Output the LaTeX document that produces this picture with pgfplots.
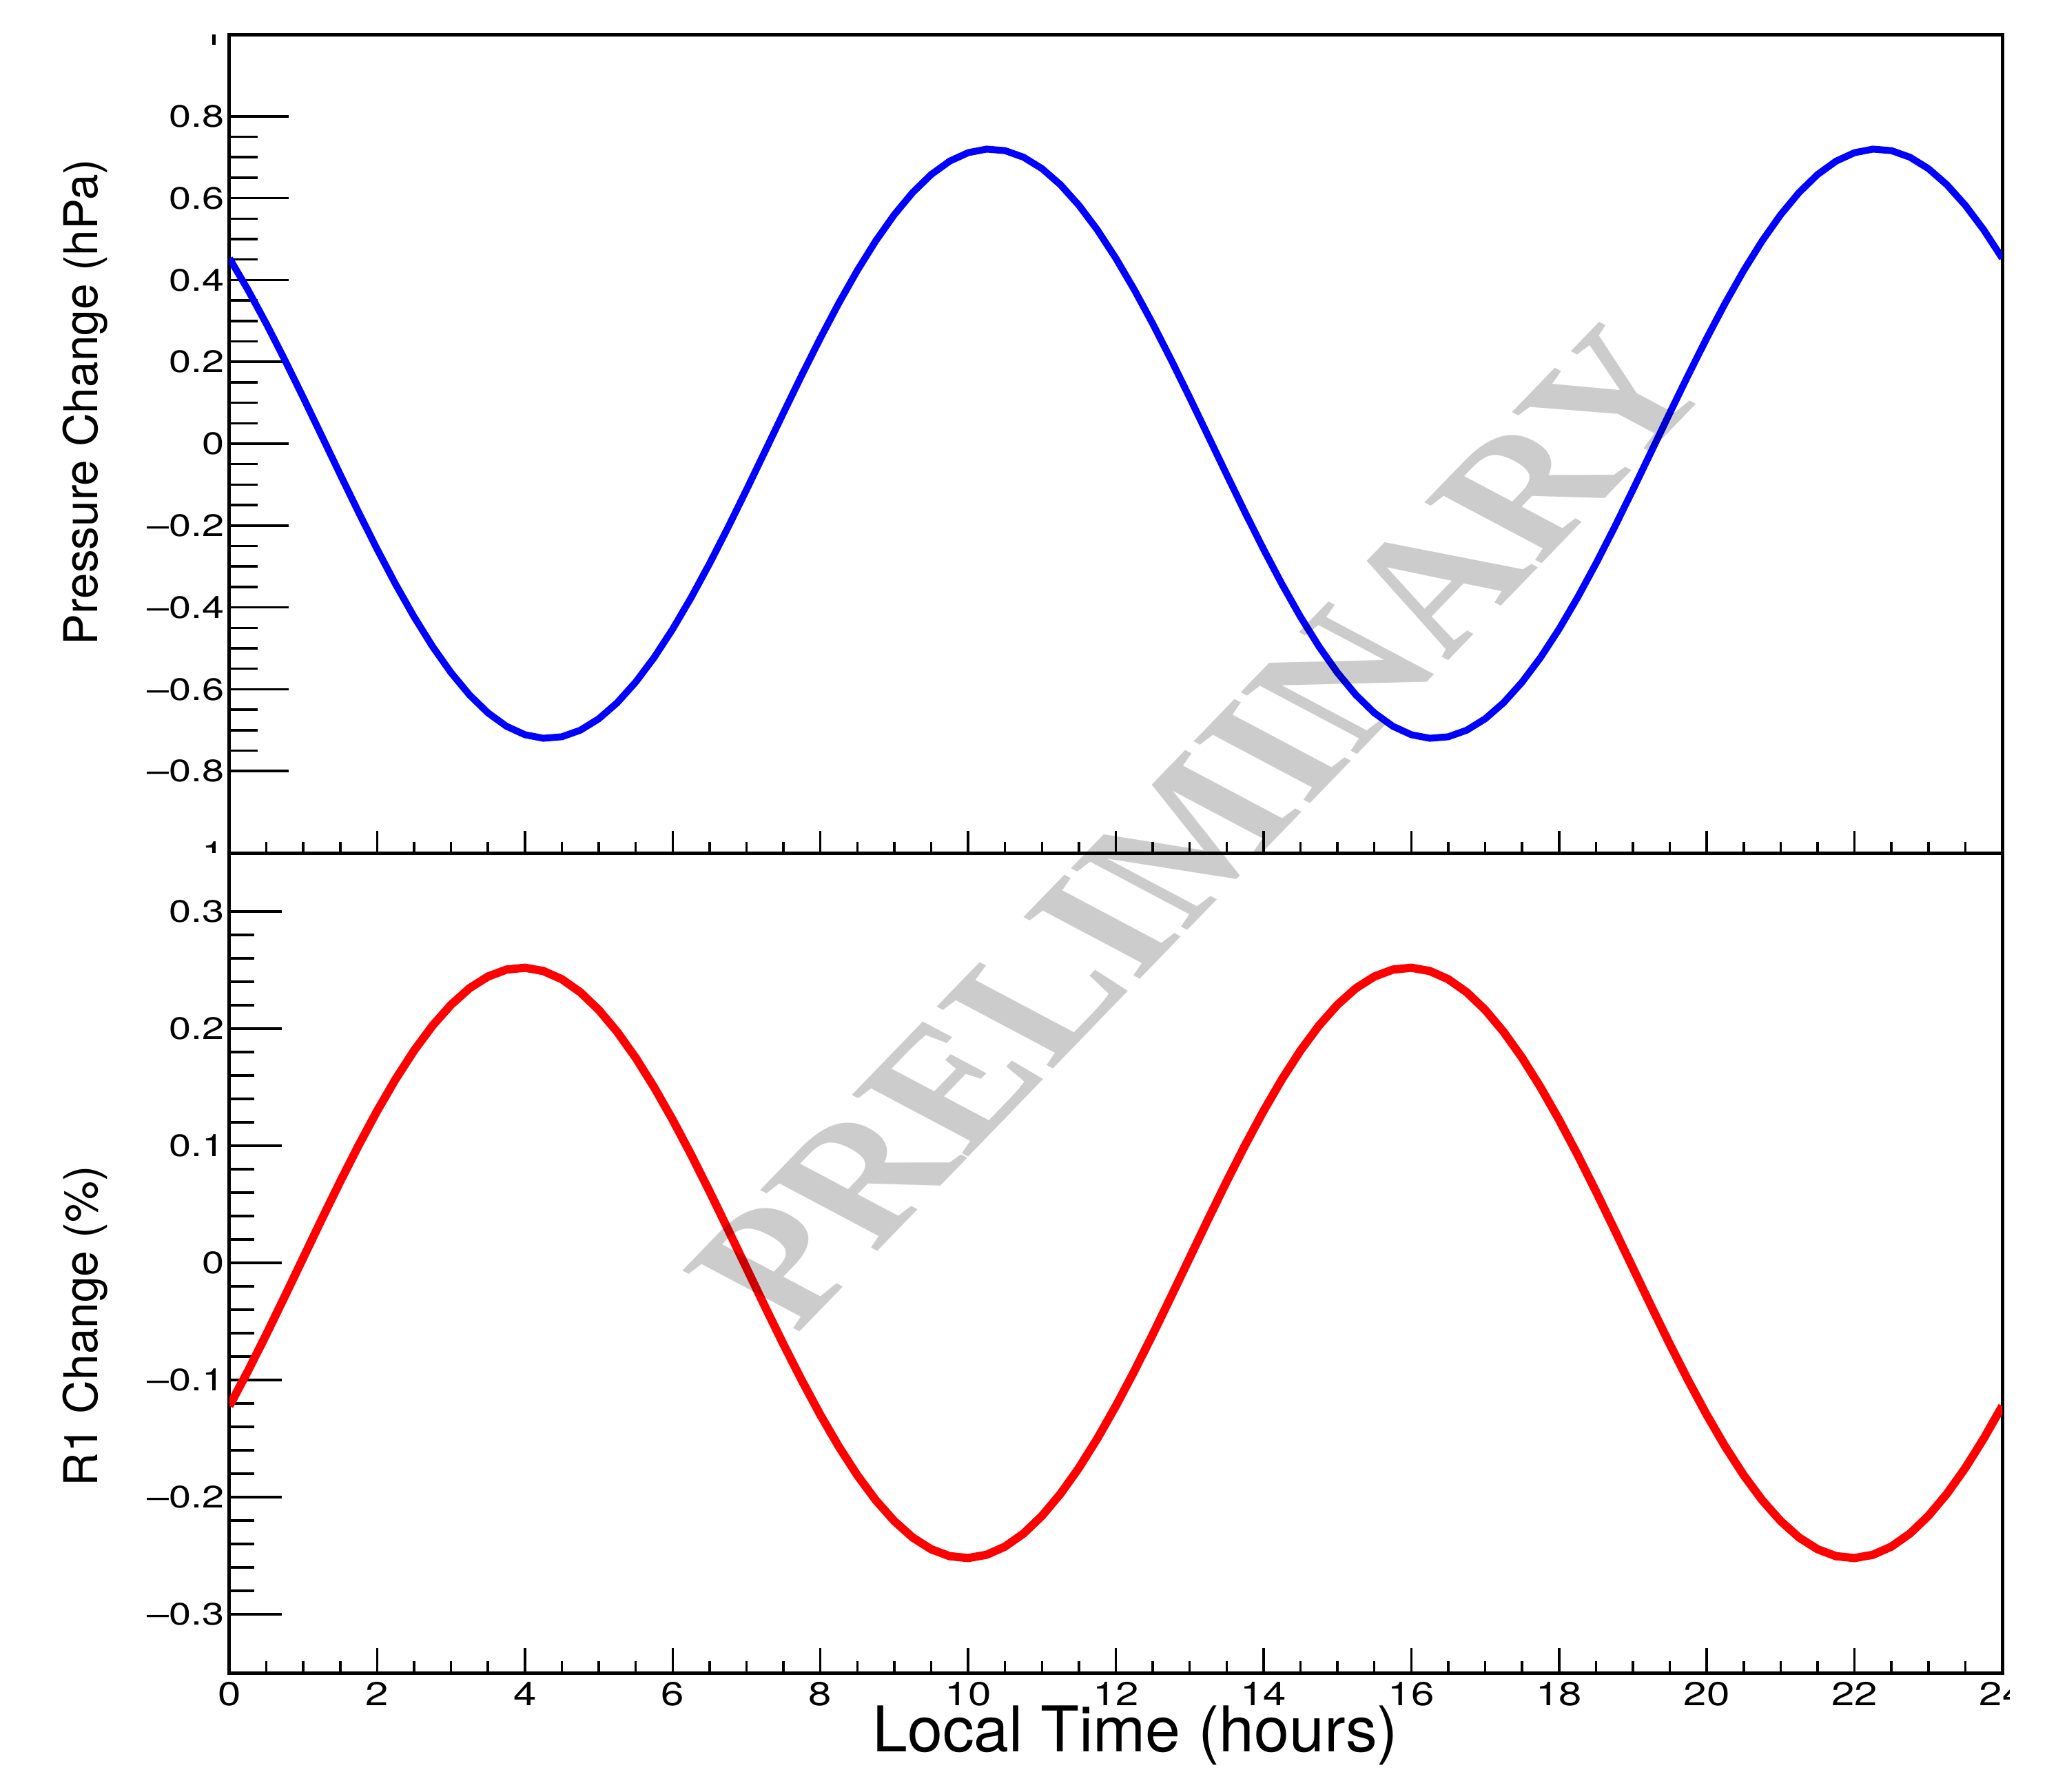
\documentclass[border=0pt]{standalone}
\usepackage{fontspec}
\setmainfont{TeX Gyre Heros}
\newfontfamily\stampfont{Liberation Serif}
\usepackage{pgfplots}
\pgfplotsset{compat=1.18}

\pgfplotsset{
	rootpanel/.style={
		scale only axis,
		width=514.6pt,
		xmin=0, xmax=24,
		tick align=inside,
		tick pos=left,
		xtick={0,2,...,24},
		minor x tick num=3,
		axis line style={line width=1pt},
		tick style={line width=0.7pt, black},
		yticklabel style={font=\fontsize{9}{10}\selectfont, xscale=1.28, inner sep=0pt, xshift=-1pt},
		ylabel style={font=\fontsize{13.5}{15}\selectfont, anchor=center},
	},
}

\begin{document}
\begin{tikzpicture}
\useasboundingbox (0,0) rectangle (600pt,-520pt);

% upper panel: pressure
\begin{axis}[rootpanel,
	at={(66.6pt,-10pt)}, anchor=north west,
	height=237.6pt,
	ymin=-1, ymax=1,
	ytick={-0.8,-0.6,-0.4,-0.2,0,0.2,0.4,0.6,0.8},
	yticklabels={\textendash0.8,\textendash0.6,\textendash0.4,\textendash0.2,0,0.2,0.4,0.6,0.8},
	extra y ticks={-1,1},
	extra y tick labels={\textendash1,1},
	extra y tick style={ytick style={draw=none}},
	minor y tick num=3,
	xticklabels={},
	xtick style={/pgfplots/major tick length=6.5pt, /pgfplots/minor tick length=3.2pt},
	ytick style={/pgfplots/major tick length=17.2pt, /pgfplots/minor tick length=8.2pt},
	ylabel={Pressure Change (hPa)},
	ylabel style={at={(axis description cs:-0.0812,0.551)}},
]
\addplot [blue, line width=2pt] table {
0 0.4531
0.25 0.3762
0.5 0.2929
0.75 0.2045
1 0.1126
1.25 0.0188
1.5 -0.0753
1.75 -0.1681
2 -0.2580
2.25 -0.3436
2.5 -0.4232
2.75 -0.4956
3 -0.5595
3.25 -0.6139
3.5 -0.6578
3.75 -0.6904
4 -0.7111
4.25 -0.7198
4.5 -0.7161
4.75 -0.7001
5 -0.6722
5.25 -0.6328
5.5 -0.5825
5.75 -0.5223
6 -0.4531
6.25 -0.3762
6.5 -0.2929
6.75 -0.2045
7 -0.1126
7.25 -0.0188
7.5 0.0753
7.75 0.1681
8 0.2580
8.25 0.3436
8.5 0.4232
8.75 0.4956
9 0.5595
9.25 0.6139
9.5 0.6578
9.75 0.6904
10 0.7111
10.25 0.7198
10.5 0.7161
10.75 0.7001
11 0.6722
11.25 0.6328
11.5 0.5825
11.75 0.5223
12 0.4531
12.25 0.3762
12.5 0.2929
12.75 0.2045
13 0.1126
13.25 0.0188
13.5 -0.0753
13.75 -0.1681
14 -0.2580
14.25 -0.3436
14.5 -0.4232
14.75 -0.4956
15 -0.5595
15.25 -0.6139
15.5 -0.6578
15.75 -0.6904
16 -0.7111
16.25 -0.7198
16.5 -0.7161
16.75 -0.7001
17 -0.6722
17.25 -0.6328
17.5 -0.5825
17.75 -0.5223
18 -0.4531
18.25 -0.3762
18.5 -0.2929
18.75 -0.2045
19 -0.1126
19.25 -0.0188
19.5 0.0753
19.75 0.1681
20 0.2580
20.25 0.3436
20.5 0.4232
20.75 0.4956
21 0.5595
21.25 0.6139
21.5 0.6578
21.75 0.6904
22 0.7111
22.25 0.7198
22.5 0.7161
22.75 0.7001
23 0.6722
23.25 0.6328
23.5 0.5825
23.75 0.5223
24 0.4531
};
\end{axis}

% lower panel: R1
\begin{axis}[rootpanel,
	at={(66.6pt,-247.6pt)}, anchor=north west,
	height=238pt,
	ymin=-0.35, ymax=0.35,
	ytick={-0.3,-0.2,-0.1,0,0.1,0.2,0.3},
	yticklabels={\textendash0.3,\textendash0.2,\textendash0.1,0,0.1,0.2,0.3},
	minor y tick num=4,
	xticklabels={0,2,4,6,8,10,12,14,16,18,20,22,24},
	xticklabel style={font=\fontsize{9.6}{11}\selectfont, xscale=1.25, inner sep=0pt, anchor=north, yshift=-2.4pt},
	xtick style={/pgfplots/major tick length=7.2pt, /pgfplots/minor tick length=3.4pt},
	ytick style={/pgfplots/major tick length=15.2pt, /pgfplots/minor tick length=7.2pt},
	ylabel={R1 Change (\%)},
	ylabel style={at={(axis description cs:-0.0812,0.423)}},
	xlabel={Local Time (hours)},
	xlabel style={font=\fontsize{18.3}{21}\selectfont, at={(axis description cs:0.511,-0.096)}, anchor=base},
]
\addplot [red, line width=2.4pt] table {
0 -0.1222
0.25 -0.0924
0.5 -0.0610
0.75 -0.0285
1 0.0044
1.25 0.0373
1.5 0.0695
1.75 0.1005
2 0.1298
2.25 0.1569
2.5 0.1813
2.75 0.2026
3 0.2204
3.25 0.2345
3.5 0.2445
3.75 0.2504
4 0.2520
4.25 0.2492
4.5 0.2422
4.75 0.2311
5 0.2160
5.25 0.1972
5.5 0.1751
5.75 0.1499
6 0.1222
6.25 0.0924
6.5 0.0610
6.75 0.0285
7 -0.0044
7.25 -0.0373
7.5 -0.0695
7.75 -0.1005
8 -0.1298
8.25 -0.1569
8.5 -0.1813
8.75 -0.2026
9 -0.2204
9.25 -0.2345
9.5 -0.2445
9.75 -0.2504
10 -0.2520
10.25 -0.2492
10.5 -0.2422
10.75 -0.2311
11 -0.2160
11.25 -0.1972
11.5 -0.1751
11.75 -0.1499
12 -0.1222
12.25 -0.0924
12.5 -0.0610
12.75 -0.0285
13 0.0044
13.25 0.0373
13.5 0.0695
13.75 0.1005
14 0.1298
14.25 0.1569
14.5 0.1813
14.75 0.2026
15 0.2204
15.25 0.2345
15.5 0.2445
15.75 0.2504
16 0.2520
16.25 0.2492
16.5 0.2422
16.75 0.2311
17 0.2160
17.25 0.1972
17.5 0.1751
17.75 0.1499
18 0.1222
18.25 0.0924
18.5 0.0610
18.75 0.0285
19 -0.0044
19.25 -0.0373
19.5 -0.0695
19.75 -0.1005
20 -0.1298
20.25 -0.1569
20.5 -0.1813
20.75 -0.2026
21 -0.2204
21.25 -0.2345
21.5 -0.2445
21.75 -0.2504
22 -0.2520
22.25 -0.2492
22.5 -0.2422
22.75 -0.2311
23 -0.2160
23.25 -0.1972
23.5 -0.1751
23.75 -0.1499
24 -0.1222
};
\end{axis}

% ROOT clips the outermost labels at the pad edge: hide the cut parts
\fill[white] (10pt,-10pt) rectangle (64.8pt,0pt);
\fill[white] (10pt,-247.6pt) rectangle (64.8pt,-258pt);
\fill[white] (583.4pt,-486.6pt) rectangle (600pt,-500pt);

% watermark over both panels, stretched sideways like the original canvas
\node[xscale=1.35, rotate=54.4, text=black, text opacity=0.2, font=\stampfont\bfseries\fontsize{47}{52}\selectfont] at (348pt,-240pt) {PRELIMINARY};
\end{tikzpicture}
\end{document}
